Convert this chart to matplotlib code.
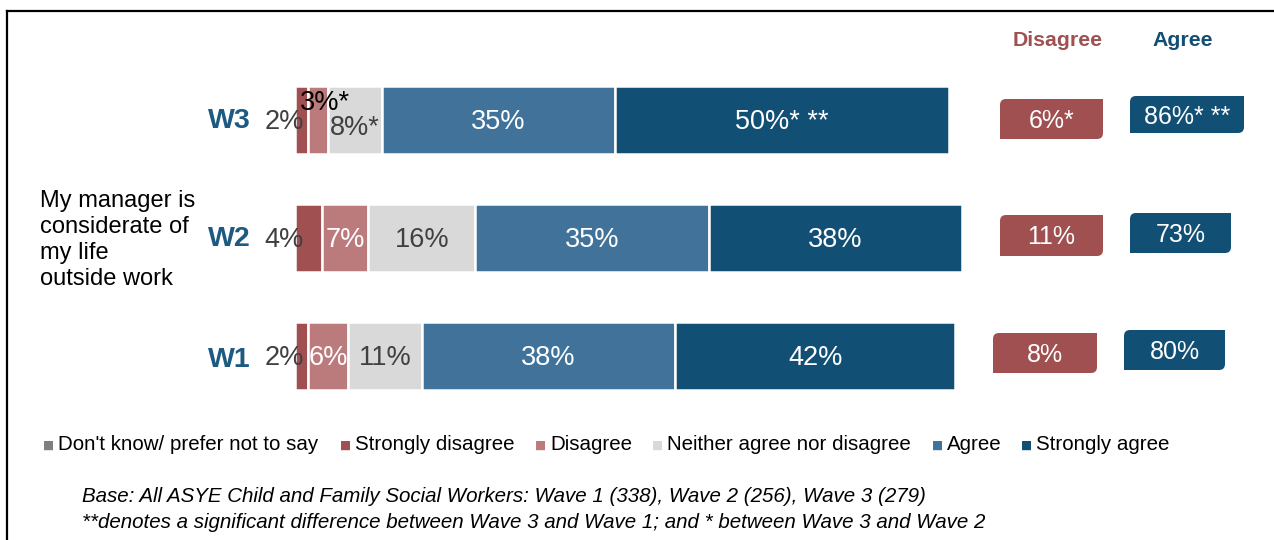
import matplotlib.pyplot as plt
from matplotlib.patches import PathPatch
from matplotlib.path import Path
from matplotlib.lines import Line2D

plt.rcParams['font.family'] = ['Liberation Sans', 'DejaVu Sans']

# data, rows bottom -> top
waves = ['W1', 'W2', 'W3']
strongly_disagree = [2, 4, 2]
disagree = [6, 7, 3]
neither = [11, 16, 8]
agree = [38, 35, 35]
strongly_agree = [42, 38, 50]

sd_labels = ['2%', '4%', '2%']
d_labels = ['6%', '7%', '3%*']
n_labels = ['11%', '16%', '8%*']
a_labels = ['38%', '35%', '35%']
sa_labels = ['42%', '38%', '50%* **']

net_disagree = ['8%', '11%', '6%*']
net_agree = ['80%', '73%', '86%* **']

legend_names = ["Don't know/ prefer not to say", 'Strongly disagree', 'Disagree',
                'Neither agree nor disagree', 'Agree', 'Strongly agree']

c_dk = '#7f7f7f'
c_sd = '#a05050'
c_d = '#bb7b7c'
c_n = '#d9d9d9'
c_a = '#41739a'
c_sa = '#124f74'
c_wave = '#1c5a82'
colors = [c_dk, c_sd, c_d, c_n, c_a, c_sa]

W, H = 1274, 540
fig = plt.figure(figsize=(W / 100, H / 100), dpi=100)

# overlay in pixel coords for the side boxes
ov = fig.add_axes([0, 0, 1, 1])
ov.set_xlim(0, W)
ov.set_ylim(H, 0)
ov.axis('off')

ax = fig.add_axes([295 / W, 125 / H, 667 / W, 354 / H])
ax.set_xlim(0, 100)
ax.set_ylim(-0.5, 2.5)
ax.axis('off')

ys = list(range(len(waves)))
bh = 0.57
left = [0, 0, 0]
segments = [(strongly_disagree, c_sd), (disagree, c_d), (neither, c_n),
            (agree, c_a), (strongly_agree, c_sa)]
for vals, col in segments:
    ax.barh(ys, vals, left=left, height=bh, color=col, edgecolor='white', linewidth=1.8)
    left = [l + v for l, v in zip(left, vals)]

fs = 19.5
t = -0.02  # nudge text down a little
for i, y in enumerate(ys):
    x0 = 0
    # strongly disagree label sits just left of the bar
    ax.text(-1.6, y + t, sd_labels[i], ha='center', va='center', fontsize=fs, color='#404040')
    x0 += strongly_disagree[i]
    if i == 2:
        ax.text(x0 + disagree[i] / 2 + 1.0, y + 0.14, d_labels[i], ha='center', va='center',
                fontsize=fs, color='black')
    else:
        ax.text(x0 + disagree[i] / 2, y + t, d_labels[i], ha='center', va='center', fontsize=fs, color='white')
    x0 += disagree[i]
    dy = -0.07 if i == 2 else t
    ax.text(x0 + neither[i] / 2, y + dy, n_labels[i], ha='center', va='center', fontsize=fs, color='#404040')
    x0 += neither[i]
    ax.text(x0 + agree[i] / 2, y + t, a_labels[i], ha='center', va='center', fontsize=fs, color='white')
    x0 += agree[i]
    ax.text(x0 + strongly_agree[i] / 2, y + t, sa_labels[i], ha='center', va='center', fontsize=fs, color='white')
    # wave label
    ax.text(-6.6, y - (0.03 if i == 0 else 0.01), waves[i], ha='right', va='center', fontsize=20.5,
            fontweight='bold', color=c_wave)


def tab_box(x, y, w, h, r, color):
    # box with rounded top-left and bottom-right corners (pixel coords, y down)
    verts = [(x, y + h), (x, y + r), (x, y), (x + r, y), (x + w, y),
             (x + w, y + h - r), (x + w, y + h), (x + w - r, y + h), (x, y + h)]
    codes = [Path.MOVETO, Path.LINETO, Path.CURVE3, Path.CURVE3, Path.LINETO,
             Path.LINETO, Path.CURVE3, Path.CURVE3, Path.CLOSEPOLY]
    ov.add_patch(PathPatch(Path(verts, codes), facecolor=color, edgecolor='none'))


d_box = [(993, 333, 104, 40), (1000, 215, 103, 41), (1000, 99, 103, 40)]
a_box = [(1124, 330, 101, 40), (1130, 213, 101, 40), (1130, 96, 114, 37)]
for i in range(len(waves)):
    bx, by, bw, bhh = d_box[i]
    tab_box(bx, by, bw, bhh, 6, c_sd)
    ov.text(bx + bw / 2, by + bhh / 2 + 2, net_disagree[i], ha='center', va='center', fontsize=18, color='white')
    bx, by, bw, bhh = a_box[i]
    tab_box(bx, by, bw, bhh, 6, c_sa)
    ov.text(bx + bw / 2, by + bhh / 2 + 2, net_agree[i], ha='center', va='center', fontsize=18, color='white')

fig.text(1058 / W, 1 - 41 / H, 'Disagree', ha='center', va='center', fontsize=15.3,
         fontweight='bold', color=c_sd)
fig.text(1183 / W, 1 - 41 / H, 'Agree', ha='center', va='center', fontsize=15.3,
         fontweight='bold', color=c_sa)

fig.text(40 / W, 1 - 240 / H, 'My manager is\nconsiderate of\nmy life\noutside work', ha='left',
         va='center', fontsize=17, color='black', linespacing=1.23)

# legend
leg_x = [49, 346, 541, 658, 938, 1027]
for name, col, lx in zip(legend_names, colors, leg_x):
    fig.text(lx / W, 1 - 445 / H, '\u25a0', ha='center', va='center', fontsize=8.5, color=col,
             family='DejaVu Sans')
    fig.text((lx + 9) / W, 1 - 445 / H, name, ha='left', va='center', fontsize=14.8, color='black')

fig.text(82 / W, 1 - 497 / H, 'Base: All ASYE Child and Family Social Workers: Wave 1 (338), Wave 2 (256), Wave 3 (279)',
         ha='left', va='center', fontsize=14.8, style='italic')
fig.text(82 / W, 1 - 522 / H, '**denotes a significant difference between Wave 3 and Wave 1; and * between Wave 3 and Wave 2',
         ha='left', va='center', fontsize=14.8, style='italic')

# frame lines (top and left)
fig.add_artist(Line2D([7 / W, 1.0], [1 - 11 / H, 1 - 11 / H], transform=fig.transFigure,
                      color='black', linewidth=1.6))
fig.add_artist(Line2D([7 / W, 7 / W], [0, 1 - 11 / H], transform=fig.transFigure,
                      color='black', linewidth=1.6))

fig.savefig('out.png', dpi=100)
